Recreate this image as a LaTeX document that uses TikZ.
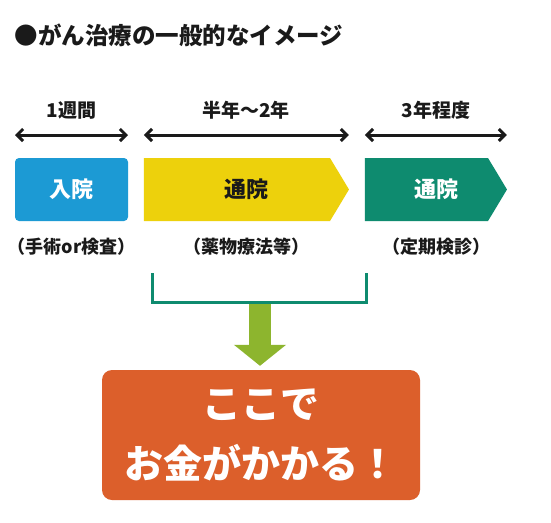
\documentclass[tikz,border=0pt]{standalone}
\usepackage{fontspec}
\setmainfont{Noto Sans CJK JP}
\usetikzlibrary{arrows.meta,shapes.symbols}
\definecolor{stayblue}{HTML}{1C9AD4}
\definecolor{visityellow}{HTML}{EDD10C}
\definecolor{checkgreen}{HTML}{0E8B6F}
\definecolor{costorange}{HTML}{DC5F2B}
\definecolor{pushgreen}{HTML}{8DB52E}
\definecolor{inkblack}{HTML}{1A1A1A}
\begin{document}
\begin{tikzpicture}[x=1pt,y=-1pt,
    phase/.style={inner sep=0pt,outer sep=0pt,minimum height=63pt,
      font=\fontsize{22}{26}\selectfont\bfseries},
    chevron/.style={phase,signal,signal to=east,signal pointer angle=118},
    span/.style={line width=3pt,inkblack,
      {Straight Barb[length=6pt,width=12pt]}-{Straight Barb[length=6pt,width=12pt]}},
    dur/.style={inkblack,font=\fontsize{19}{22}\selectfont\bfseries},
    note/.style={inkblack,font=\fontsize{18}{22}\selectfont\bfseries}]
  \useasboundingbox[fill=white] (0,0) rectangle (551,522);
  \node[anchor=west,inkblack,font=\fontsize{23.5}{28}\selectfont\bfseries]
    (title) at (11,35) {●がん治療の一般的なイメージ};
  % three phases
  \node[phase,fill=stayblue,text=white,rounded corners=4pt,minimum width=113pt]
    (stay) at (71.5,189.5) {入院};
  \node[chevron,fill=visityellow,text=inkblack,minimum width=205pt]
    (visit) at (237,189.5) {\hspace*{19pt}通院};
  \node[chevron,fill=checkgreen,text=white,minimum width=142pt]
    (check) at (426.5,189.5) {\hspace*{19pt}通院};
  \node[dur] (stay len) at (71.5,110) {1週間};
  \node[dur] (visit len) at (246,110) {半年〜2年};
  \node[dur] (check len) at (436,110) {3年程度};
  \draw[span] ([yshift=54.5pt]stay.west) -- ([yshift=54.5pt]stay.east);
  \draw[span] ([yshift=54.5pt]visit.west) -- ([yshift=54.5pt]visit.east);
  \draw[span] ([yshift=54.5pt]check.west) -- ([yshift=54.5pt]check.east);
  \node[note] (stay note) at (71.5,247) {（手術or検査）};
  \node[note] (visit note) at (246,247) {（薬物療法等）};
  \node[note] (check note) at (436,247) {（定期検診）};
  % bracket and result
  \node[fill=costorange,rounded corners=10pt,minimum width=318pt,minimum height=130pt,
    text=white,align=center,font=\fontsize{39}{60}\selectfont\bfseries]
    (result) at (261,435) {ここで\\お金がかかる！};
  \coordinate (bl) at (152,273);
  \coordinate (br) at (366,273);
  \coordinate (bm) at (260,302);
  \draw[line width=22pt,pushgreen,-{Triangle[length=21pt,width=51pt]},shorten >=4pt]
    ([yshift=-1.5pt]bm) -- (bm |- result.north);
  \draw[line width=3pt,checkgreen] (bl) |- (bm) -| (br);
\end{tikzpicture}
\end{document}
